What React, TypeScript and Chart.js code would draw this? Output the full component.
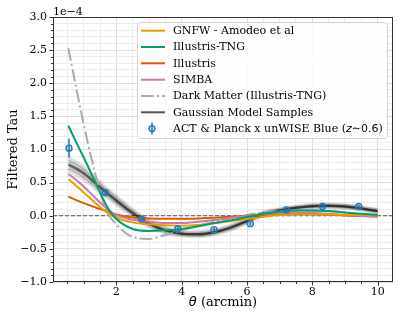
import React, { useEffect, useRef } from 'react';
import { Chart, registerables } from 'chart.js';
Chart.register(...registerables);

// ---------------- data (units of 1e-4) ----------------
const thetaGrid = [0.53, 0.75, 1.0, 1.25, 1.5, 1.75, 2.0, 2.5, 3.0, 3.5, 4.0, 4.5, 5.0, 5.5, 6.0, 6.5, 7.0, 7.5, 8.0, 8.5, 9.0, 9.5, 10.0];
const gnfw = [0.55, 0.46, 0.35, 0.24, 0.13, 0.04, -0.03, -0.1, -0.13, -0.145, -0.15, -0.14, -0.115, -0.08, -0.05, -0.015, 0.01, 0.02, 0.02, 0.02, 0.015, 0.01, 0.01];
const tng = [1.36, 1.13, 0.88, 0.62, 0.35, 0.11, -0.05, -0.2, -0.23, -0.22, -0.2, -0.16, -0.11, -0.07, -0.02, 0.03, 0.065, 0.08, 0.08, 0.07, 0.05, 0.03, 0.015];
const illustris = [0.29, 0.24, 0.19, 0.145, 0.1, 0.06, 0.02, -0.025, -0.04, -0.045, -0.045, -0.04, -0.03, -0.015, 0.0, 0.015, 0.025, 0.03, 0.025, 0.015, 0.005, -0.005, -0.01];
const simba = [0.63, 0.55, 0.44, 0.32, 0.2, 0.09, 0.01, -0.06, -0.09, -0.11, -0.11, -0.09, -0.065, -0.03, -0.005, 0.025, 0.045, 0.05, 0.045, 0.03, 0.01, -0.005, -0.015];
const darkMatter = [2.53, 1.98, 1.38, 0.84, 0.36, 0.03, -0.13, -0.32, -0.35, -0.29, -0.22, -0.15, -0.09, -0.04, 0.01, 0.05, 0.07, 0.08, 0.08, 0.07, 0.05, 0.02, 0.0];
const gaussCenter = [0.77, 0.72, 0.64, 0.54, 0.43, 0.33, 0.23, 0.04, -0.12, -0.22, -0.27, -0.28, -0.25, -0.18, -0.08, 0.03, 0.08, 0.12, 0.145, 0.15, 0.14, 0.11, 0.07];
const gaussHigh = [0.87, 0.81, 0.73, 0.62, 0.5, 0.39, 0.29, 0.09, -0.08, -0.185, -0.24, -0.25, -0.22, -0.15, -0.055, 0.05, 0.1, 0.14, 0.165, 0.17, 0.16, 0.13, 0.09];
const gaussMidHigh = [0.82, 0.765, 0.685, 0.58, 0.465, 0.36, 0.26, 0.065, -0.1, -0.2, -0.255, -0.265, -0.235, -0.165, -0.068, 0.04, 0.09, 0.13, 0.155, 0.16, 0.15, 0.12, 0.08];
const gaussMidLow = [0.72, 0.675, 0.595, 0.5, 0.395, 0.3, 0.205, 0.02, -0.14, -0.238, -0.285, -0.295, -0.265, -0.195, -0.093, 0.02, 0.07, 0.11, 0.135, 0.14, 0.13, 0.1, 0.06];
const gaussLow = [0.67, 0.63, 0.55, 0.46, 0.36, 0.27, 0.18, 0.0, -0.16, -0.255, -0.3, -0.31, -0.28, -0.21, -0.105, 0.01, 0.06, 0.1, 0.125, 0.13, 0.12, 0.09, 0.05];

const actTheta = [0.55, 1.66, 2.77, 3.88, 4.99, 6.1, 7.2, 8.31, 9.42];
const actTau = [1.02, 0.35, -0.05, -0.2, -0.21, -0.12, 0.09, 0.14, 0.14];
const actErr = [0.145, 0.055, 0.025, 0.025, 0.025, 0.025, 0.025, 0.025, 0.025];

const yMajorTicks = [-1.0, -0.5, 0.0, 0.5, 1.0, 1.5, 2.0, 2.5, 3.0];
const xMajorTicks = [2, 4, 6, 8, 10];
const xMinorTicks = [0.5, 1, 1.5, 2.5, 3, 3.5, 4.5, 5, 5.5, 6.5, 7, 7.5, 8.5, 9, 9.5];

const legendLabels = ['GNFW - Amodeo et al', 'Illustris-TNG', 'Illustris', 'SIMBA', 'Dark Matter (Illustris-TNG)', 'Gaussian Model Samples', 'ACT & Planck x unWISE Blue ('];

const C_GNFW = '#E69F00';
const C_TNG = '#009E73';
const C_ILL = '#D55E00';
const C_SIMBA = '#CC79A7';
const C_DM = '#aaaaaa';
const C_ACT = '#1f77b4';
const SERIF = '"DejaVu Serif", serif';
const SANS = '"DejaVu Sans", sans-serif';
const DM_DASH = [12.8, 3.2, 2, 3.2];

const pts = (ys: number[]) => thetaGrid.map((x, i) => ({ x, y: ys[i] }));

const yGridValues: number[] = (() => {
  const out: number[] = [];
  for (let i = 0; i < yMajorTicks.length; i++) {
    out.push(yMajorTicks[i]);
    if (i < yMajorTicks.length - 1) {
      const a = yMajorTicks[i], b = yMajorTicks[i + 1];
      for (let k = 1; k < 5; k++) out.push(+(a + ((b - a) * k) / 5).toFixed(2));
    }
  }
  return out;
})();
const xGridValues = [...xMinorTicks, ...xMajorTicks].sort((a, b) => a - b);

const isYMajor = (v: number) => yMajorTicks.some((m) => Math.abs(m - v) < 1e-6);
const isXMajor = (v: number) => xMajorTicks.some((m) => Math.abs(m - v) < 1e-6);

const overlay = {
  id: 'overlay',
  beforeDatasetsDraw(chart: any) {
    const { ctx, chartArea, scales } = chart;
    const y0 = scales.y.getPixelForValue(0);
    ctx.save();
    ctx.strokeStyle = '#555';
    ctx.lineWidth = 1;
    ctx.setLineDash([4, 2]);
    ctx.beginPath();
    ctx.moveTo(chartArea.left, y0);
    ctx.lineTo(chartArea.right, y0);
    ctx.stroke();
    ctx.restore();
  },
  afterDatasetsDraw(chart: any) {
    const { ctx, chartArea, scales } = chart;
    const { left, right, top, bottom } = chartArea;
    const xs = scales.x, ys = scales.y;
    ctx.save();
    // error bars + markers
    for (let i = 0; i < actTheta.length; i++) {
      const px = xs.getPixelForValue(actTheta[i]);
      const py = ys.getPixelForValue(actTau[i]);
      const pHi = ys.getPixelForValue(actTau[i] + actErr[i]);
      const pLo = ys.getPixelForValue(actTau[i] - actErr[i]);
      ctx.strokeStyle = C_ACT;
      ctx.lineWidth = 1.5;
      ctx.beginPath();
      ctx.moveTo(px, pHi);
      ctx.lineTo(px, pLo);
      ctx.stroke();
      ctx.beginPath();
      ctx.arc(px, py, 3, 0, Math.PI * 2);
      ctx.fillStyle = 'rgba(31,119,180,0.25)';
      ctx.fill();
      ctx.lineWidth = 1.3;
      ctx.stroke();
    }
    // frame
    ctx.strokeStyle = '#333';
    ctx.lineWidth = 1;
    ctx.strokeRect(left + 0.5, top + 0.5, right - left - 1, bottom - top - 1);
    // ticks
    ctx.beginPath();
    for (const v of yGridValues) {
      const py = Math.round(ys.getPixelForValue(v)) + 0.5;
      const len = isYMajor(v) ? 3.5 : 2;
      ctx.moveTo(left, py);
      ctx.lineTo(left - len, py);
    }
    for (const v of xGridValues) {
      const px = Math.round(xs.getPixelForValue(v)) + 0.5;
      const len = isXMajor(v) ? 3.5 : 2;
      ctx.moveTo(px, bottom);
      ctx.lineTo(px, bottom + len);
    }
    ctx.stroke();

    // 1e-4 offset text
    ctx.fillStyle = '#000';
    ctx.font = `11px ${SERIF}`;
    ctx.textAlign = 'left';
    ctx.textBaseline = 'alphabetic';
    ctx.fillText('1e\u22124', left, top - 2);

    // axis titles
    ctx.save();
    ctx.translate(14, (top + bottom) / 2);
    ctx.rotate(-Math.PI / 2);
    ctx.font = `13px ${SERIF}`;
    ctx.textAlign = 'center';
    ctx.textBaseline = 'middle';
    ctx.fillText('Filtered Tau', 0, 0);
    ctx.restore();

    ctx.textBaseline = 'middle';
    ctx.textAlign = 'left';
    ctx.font = `italic 13px ${SANS}`;
    const wTheta = ctx.measureText('\u03b8').width;
    ctx.font = `13px ${SERIF}`;
    const wRest = ctx.measureText(' (arcmin)').width;
    const xt0 = (left + right) / 2 - (wTheta + wRest) / 2;
    ctx.font = `italic 13px ${SANS}`;
    ctx.fillText('\u03b8', xt0, 303);
    ctx.font = `13px ${SERIF}`;
    ctx.fillText(' (arcmin)', xt0 + wTheta, 303);

    // legend
    const bx = 137, by = 22, bw = 250, bh = 116;
    ctx.beginPath();
    if (ctx.roundRect) ctx.roundRect(bx + 0.5, by + 0.5, bw, bh, 3);
    else ctx.rect(bx + 0.5, by + 0.5, bw, bh);
    ctx.fillStyle = 'rgba(255,255,255,0.85)';
    ctx.fill();
    ctx.strokeStyle = '#d6d6d6';
    ctx.lineWidth = 1;
    ctx.stroke();
    const rowY = [30.7, 47, 63.3, 79.7, 96, 112.3, 128.6];
    const lx0 = 141, lx1 = 165, tx = 173;
    const lineRow = (yy: number, color: string, dash: number[]) => {
      ctx.save();
      ctx.strokeStyle = color;
      ctx.lineWidth = 2;
      ctx.setLineDash(dash);
      ctx.beginPath();
      ctx.moveTo(lx0, yy);
      ctx.lineTo(lx1, yy);
      ctx.stroke();
      ctx.restore();
    };
    lineRow(rowY[0], C_GNFW, []);
    lineRow(rowY[1], C_TNG, []);
    lineRow(rowY[2], C_ILL, []);
    lineRow(rowY[3], C_SIMBA, []);
    lineRow(rowY[4], C_DM, DM_DASH);
    lineRow(rowY[5], '#555', []);
    // ACT marker
    {
      const mx = 152, my = rowY[6];
      ctx.strokeStyle = C_ACT;
      ctx.lineWidth = 1.5;
      ctx.beginPath();
      ctx.moveTo(mx, my - 6);
      ctx.lineTo(mx, my + 6);
      ctx.stroke();
      ctx.beginPath();
      ctx.arc(mx, my, 3, 0, Math.PI * 2);
      ctx.fillStyle = 'rgba(31,119,180,0.25)';
      ctx.fill();
      ctx.lineWidth = 1.3;
      ctx.stroke();
    }
    ctx.fillStyle = '#000';
    ctx.textAlign = 'left';
    ctx.textBaseline = 'middle';
    ctx.font = `11px ${SERIF}`;
    for (let i = 0; i < 6; i++) ctx.fillText(legendLabels[i], tx, rowY[i] + 0.5);
    let cx = tx;
    const ly = rowY[6] + 0.5;
    ctx.fillText(legendLabels[6], cx, ly);
    cx += ctx.measureText(legendLabels[6]).width;
    ctx.font = `italic 11px ${SANS}`;
    ctx.fillText('z', cx, ly);
    cx += ctx.measureText('z').width;
    ctx.font = `11px ${SANS}`;
    ctx.fillText('\u223c0.6', cx, ly);
    cx += ctx.measureText('\u223c0.6').width;
    ctx.font = `11px ${SERIF}`;
    ctx.fillText(')', cx, ly);
    ctx.restore();
  },
};

export default function App() {
  const ref = useRef<HTMLCanvasElement | null>(null);
  useEffect(() => {
    document.body.style.margin = '0';
    const canvas = ref.current;
    if (!canvas) return;
    const gaussDs = (ys: number[], color: string, w: number) => ({
      data: pts(ys),
      borderColor: color,
      borderWidth: w,
      pointRadius: 0,
      order: 10,
    });
    const chart = new Chart(canvas, {
      type: 'line',
      data: {
        datasets: [
          gaussDs(gaussHigh, 'rgba(0,0,0,0.12)', 4),
          gaussDs(gaussLow, 'rgba(0,0,0,0.12)', 4),
          gaussDs(gaussMidHigh, 'rgba(0,0,0,0.22)', 3.5),
          gaussDs(gaussMidLow, 'rgba(0,0,0,0.22)', 3.5),
          gaussDs(gaussCenter, 'rgba(0,0,0,0.6)', 2.5),
          { label: 'Dark Matter (Illustris-TNG)', data: pts(darkMatter), borderColor: C_DM, borderWidth: 2, borderDash: DM_DASH, pointRadius: 0, order: 6 },
          { label: 'Illustris', data: pts(illustris), borderColor: C_ILL, borderWidth: 2, pointRadius: 0, order: 5 },
          { label: 'SIMBA', data: pts(simba), borderColor: C_SIMBA, borderWidth: 2, pointRadius: 0, order: 4 },
          { label: 'GNFW - Amodeo et al', data: pts(gnfw), borderColor: C_GNFW, borderWidth: 2, pointRadius: 0, order: 3 },
          { label: 'Illustris-TNG', data: pts(tng), borderColor: C_TNG, borderWidth: 2, pointRadius: 0, order: 2 },
        ] as any,
      },
      options: {
        responsive: false,
        animation: false,
        devicePixelRatio: 1,
        layout: { padding: { top: 17, right: 6, left: 0, bottom: 0 } },
        elements: { line: { cubicInterpolationMode: 'monotone', fill: false } },
        plugins: { legend: { display: false }, tooltip: { enabled: false } },
        scales: {
          x: {
            type: 'linear',
            min: 0.06,
            max: 10.47,
            afterBuildTicks: (s: any) => { s.ticks = xGridValues.map((v) => ({ value: v })); },
            afterFit: (s: any) => { s.height = 37; },
            grid: {
              drawTicks: false,
              color: (c: any) => (isXMajor(c.tick?.value) ? '#dedede' : '#ececec'),
              lineWidth: 1,
            },
            border: { display: false },
            ticks: {
              autoSkip: false,
              maxRotation: 0,
              padding: 4,
              color: '#000',
              font: { family: 'DejaVu Serif', size: 11 },
              callback: (v: any) => (isXMajor(Number(v)) ? String(v) : ''),
            },
          },
          y: {
            type: 'linear',
            min: -1.0,
            max: 3.0,
            afterBuildTicks: (s: any) => { s.ticks = yGridValues.map((v) => ({ value: v })); },
            afterFit: (s: any) => { s.width = 53; },
            grid: {
              drawTicks: false,
              color: (c: any) => (isYMajor(c.tick?.value) ? '#dedede' : '#ececec'),
              lineWidth: 1,
            },
            border: { display: false },
            ticks: {
              autoSkip: false,
              padding: 6,
              color: '#000',
              font: { family: 'DejaVu Serif', size: 11 },
              callback: (v: any) => {
                const n = Number(v);
                if (!isYMajor(n)) return '';
                return n.toFixed(1).replace('-', '\u2212');
              },
            },
          },
        },
      } as any,
      plugins: [overlay],
    });
    return () => chart.destroy();
  }, []);
  return (
    <div style={{ width: 399, height: 319, position: 'relative' }}>
      <canvas ref={ref} width={399} height={319} style={{ display: 'block' }} />
    </div>
  );
}
